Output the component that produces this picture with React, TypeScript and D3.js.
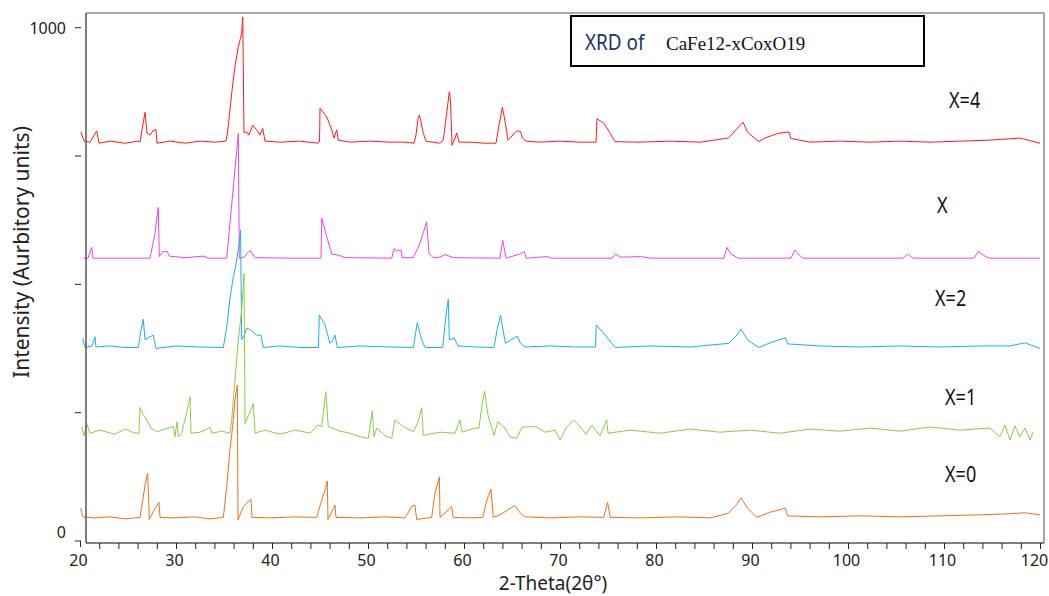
import React from "react";
import * as d3 from "d3";

// 2θ (deg), intensity (arbitrary, stacked as plotted)
const seriesX4: [number, number][] = [
  [20.05, 797], [20.36, 779], [20.99, 777], [21.69, 799], [21.93, 775], [23.07, 779], [24.64, 775], [25.99, 779],
  [26.2, 777], [26.41, 801], [26.72, 835], [26.93, 795], [27.24, 791], [27.55, 799], [27.86, 802], [27.97, 775],
  [29.32, 779], [30.89, 775], [32.45, 779], [34.01, 777], [35.16, 779], [35.31, 795], [35.57, 840], [35.81, 882],
  [36.09, 924], [36.44, 963], [36.79, 989], [36.9, 1021], [37.03, 795], [37.31, 797], [37.55, 791], [37.94, 810],
  [38.35, 801], [38.7, 791], [38.98, 804], [39.22, 779], [40.78, 777], [42.86, 779], [44.74, 775], [44.9, 779],
  [44.95, 843], [45.26, 836], [45.65, 826], [45.99, 810], [46.17, 801], [46.41, 785], [46.69, 801], [46.85, 781],
  [48.07, 777], [50.16, 779], [52.24, 777], [53.8, 777], [54.74, 775], [54.95, 791], [55.16, 824], [55.31, 830],
  [55.47, 816], [55.71, 794], [55.99, 779], [56.72, 777], [57.45, 775], [57.79, 781], [58.15, 834], [58.42, 875],
  [58.54, 859], [58.7, 771], [59.01, 785], [59.19, 795], [59.43, 777], [60.57, 777], [62.14, 775], [63.28, 775],
  [63.59, 810], [63.95, 845], [64.26, 814], [64.53, 781], [64.95, 789], [65.44, 799], [65.83, 798], [66.03, 785],
  [66.41, 779], [67.86, 777], [69.95, 779], [72.03, 777], [73.7, 777], [73.8, 823], [74.01, 820], [74.5, 814],
  [75.09, 797], [75.68, 778], [78.28, 777], [81.41, 779], [84.53, 777], [87.5, 785], [88.28, 801], [89.01, 816],
  [89.47, 797], [89.95, 789], [90.66, 778], [91.3, 785], [92.63, 794], [93.8, 797], [94.01, 784], [96.0, 777],
  [99.11, 779], [102.24, 777], [105.36, 779], [108.49, 777], [111.61, 779], [114.74, 781], [117.86, 785], [119.95, 775],
];

const seriesX: [number, number][] = [
  [20.29, 551], [20.78, 551], [21.17, 572], [21.3, 551], [24.11, 551], [27.24, 551], [27.76, 599], [28.1, 650],
  [28.21, 554], [28.56, 564], [29.04, 564], [29.25, 555], [30.89, 552], [32.86, 555], [33.28, 551], [35.23, 551],
  [36.44, 794], [36.54, 551], [37.03, 553], [37.66, 566], [38.18, 552], [41.82, 551], [45.05, 551], [45.13, 629],
  [45.65, 593], [46.17, 559], [46.85, 557], [47.55, 552], [52.42, 551], [52.66, 570], [52.94, 565], [53.39, 567],
  [53.49, 552], [54.67, 552], [55.36, 580], [56.06, 622], [56.3, 560], [56.75, 552], [57.45, 553], [57.97, 558],
  [58.83, 552], [63.7, 551], [63.98, 586], [64.33, 551], [65.78, 559], [66.23, 564], [66.43, 551], [68.59, 554],
  [69.11, 551], [75.36, 551], [75.76, 559], [76.2, 553], [78.44, 554], [79.32, 551], [87.03, 551], [87.34, 572],
  [87.7, 560], [88.49, 551], [94.01, 551], [94.4, 567], [95.19, 551], [105.68, 551], [106.14, 559], [106.72, 551],
  [113.07, 551], [113.51, 564], [114.29, 554], [114.74, 551], [119.95, 551],
];

const seriesX2: [number, number][] = [
  [20.23, 395], [20.47, 377], [21.2, 380], [21.51, 398], [21.61, 378], [23.07, 380], [24.64, 377], [26.02, 377],
  [26.3, 411], [26.54, 432], [26.72, 392], [27.14, 397], [27.58, 401], [27.86, 375], [29.84, 380], [32.45, 378],
  [34.88, 377], [35.23, 417], [35.57, 473], [35.92, 515], [36.09, 528], [36.54, 580], [36.67, 606], [36.79, 392],
  [37.06, 401], [37.34, 415], [37.73, 411], [38.35, 401], [38.8, 401], [39.04, 377], [40.78, 380], [42.86, 377],
  [44.79, 377], [44.87, 440], [45.47, 421], [45.99, 385], [46.3, 392], [46.51, 401], [46.75, 377], [49.11, 380],
  [52.24, 378], [54.67, 377], [55.08, 425], [55.54, 392], [55.89, 377], [57.73, 377], [58.07, 440], [58.31, 471],
  [58.42, 392], [58.94, 395], [59.32, 380], [61.09, 378], [63.07, 377], [63.39, 411], [63.75, 440], [64.26, 385],
  [64.84, 392], [65.52, 399], [65.83, 385], [66.3, 378], [68.91, 380], [71.51, 378], [73.65, 378], [73.72, 421],
  [74.5, 405], [75.68, 377], [79.32, 380], [83.49, 378], [87.5, 385], [88.28, 399], [88.8, 413], [89.47, 392],
  [90.66, 377], [91.82, 386], [93.42, 396], [93.65, 384], [97.03, 380], [101.2, 378], [105.36, 380], [109.53, 378],
  [113.7, 380], [116.82, 380], [118.39, 386], [119.95, 375],
];

const seriesX1: [number, number][] = [
  [20.13, 223], [20.36, 205], [20.65, 229], [20.99, 210], [22.03, 216], [23.59, 208], [24.64, 218], [25.68, 210],
  [26.09, 210], [26.2, 260], [26.51, 247], [26.9, 236], [27.34, 220], [27.94, 213], [28.8, 218], [29.67, 223],
  [29.84, 203], [30.05, 232], [30.19, 203], [30.54, 210], [30.99, 245], [31.41, 281], [31.51, 210], [32.45, 212],
  [33.49, 221], [33.7, 210], [34.74, 214], [35.57, 210], [35.75, 236], [36.09, 314], [36.44, 392], [36.79, 450],
  [37.03, 521], [37.14, 229], [37.66, 252], [38.0, 268], [38.18, 210], [39.22, 216], [40.78, 208], [42.34, 216],
  [43.91, 210], [44.74, 226], [45.13, 223], [45.55, 291], [45.81, 223], [47.03, 214], [48.07, 210], [49.11, 203],
  [49.98, 200], [50.4, 253], [50.57, 203], [50.85, 220], [51.72, 205], [52.42, 200], [52.76, 236], [53.63, 223],
  [54.67, 213], [55.16, 232], [55.54, 260], [55.71, 206], [57.45, 212], [59.01, 210], [59.53, 236], [59.74, 212],
  [61.09, 220], [61.51, 220], [61.82, 265], [62.09, 292], [62.45, 245], [63.07, 206], [63.47, 232], [64.22, 220],
  [64.74, 203], [65.44, 200], [65.99, 222], [67.41, 223], [68.39, 212], [69.43, 216], [69.97, 197], [70.57, 220],
  [71.35, 236], [72.03, 223], [72.66, 208], [73.28, 226], [74.11, 205], [74.81, 236], [74.95, 210], [77.24, 216],
  [80.36, 210], [83.49, 218], [86.61, 212], [89.74, 216], [92.86, 210], [95.99, 218], [99.11, 214], [102.24, 220],
  [105.36, 214], [108.49, 222], [111.61, 216], [114.74, 220], [115.78, 203], [116.3, 226], [116.82, 197], [117.34, 224],
  [117.86, 203], [118.39, 220], [118.91, 197], [119.22, 212],
];

const seriesX0: [number, number][] = [
  [20.02, 64], [20.23, 47], [21.51, 45], [23.07, 47], [24.64, 43], [26.2, 46], [26.54, 86], [26.72, 109],
  [27.0, 132], [27.17, 42], [27.66, 60], [28.18, 75], [28.28, 46], [29.84, 45], [31.93, 47], [33.49, 43],
  [34.88, 46], [35.23, 106], [35.57, 177], [35.92, 236], [36.09, 275], [36.33, 304], [36.41, 41], [36.96, 67],
  [37.34, 74], [37.76, 81], [37.86, 46], [39.74, 45], [42.34, 47], [44.6, 46], [45.13, 80], [45.47, 99],
  [45.71, 117], [45.78, 42], [46.51, 70], [46.61, 46], [49.11, 45], [51.72, 47], [53.8, 45], [54.5, 67],
  [54.84, 70], [55.02, 42], [56.58, 46], [56.93, 93], [57.38, 125], [57.45, 46], [58.28, 60], [58.67, 67],
  [58.83, 46], [60.57, 45], [61.9, 46], [62.34, 80], [62.76, 101], [63.0, 46], [63.7, 51], [65.24, 69],
  [65.83, 54], [66.3, 47], [68.91, 45], [72.03, 47], [74.5, 46], [74.9, 75], [75.18, 46], [78.28, 45],
  [82.45, 47], [85.57, 45], [87.5, 54], [88.28, 70], [88.8, 84], [89.47, 64], [90.47, 46], [91.82, 56],
  [93.42, 64], [93.65, 49], [97.03, 47], [101.2, 49], [105.36, 47], [109.53, 49], [113.7, 51], [116.82, 53],
  [118.39, 55], [119.95, 51],
];

const seriesNames = ["X=4", "X", "X=2", "X=1", "X=0"];
const seriesColors = ["#ff1a1a", "#ee44dd", "#1aaeea", "#8ccc44", "#e8731a"];
const xTickLabels = [20, 30, 40, 50, 60, 70, 80, 90, 100, 110, 120];
const yTickValues = [0, 250, 500, 750, 1000];
const yTickLabels = ["0", "", "", "", "1000"];

const W = 1049;
const H = 596;

export default function App() {
  const x = d3.scaleLinear().domain([20, 120]).range([80.5, 1040.5]);
  const y = d3.scaleLinear().domain([0, 1000]).range([541, 27.7]);
  const line = d3
    .line<[number, number]>()
    .x((d) => x(d[0]))
    .y((d) => y(d[1]));
  const all = [seriesX4, seriesX, seriesX2, seriesX1, seriesX0];
  const labelPos = [
    [949, 108],
    [937, 213],
    [935, 306],
    [945, 405],
    [945, 482],
  ];
  const minorTicks = d3.range(22, 121, 2);
  const axisL = 86;
  const axisR = 1044;
  const axisT = 13;
  const axisB = 543;

  return (
    <svg
      width={W}
      height={H}
      style={{ position: "absolute", left: 0, top: 0, background: "#fff" }}
      fontFamily="'Noto Sans', 'Open Sans', sans-serif"
    >
      <rect x={0} y={0} width={W} height={H} fill="#fff" />
      {/* frame */}
      <line x1={axisL} x2={axisR} y1={axisT} y2={axisT} stroke="#aaa" strokeWidth={2} />
      <line x1={axisR} x2={axisR} y1={axisT} y2={axisB} stroke="#888" strokeWidth={1.5} />
      {/* series */}
      {all.map((s, i) => (
        <path key={i} d={line(s) || ""} fill="none" stroke={seriesColors[i]} strokeWidth={1} />
      ))}
      <line x1={axisL} x2={axisL} y1={axisT} y2={axisB} stroke="#555" strokeWidth={1.5} />
      <line x1={axisL} x2={axisR} y1={axisB} y2={axisB} stroke="#555" strokeWidth={1.5} />
      {/* x ticks */}
      {minorTicks.map((v) => (
        <line key={v} x1={x(v)} x2={x(v)} y1={axisB} y2={axisB + 6} stroke="#222" strokeWidth={1} />
      ))}
      <line x1={80.5} x2={80.5} y1={541} y2={547} stroke="#222" strokeWidth={1} />
      {xTickLabels.map((v) => (
        <text
          key={v}
          x={v === 120 ? x(v) - 6 : x(v) - 2}
          y={566}
          fontSize={16}
          textAnchor="middle"
          fill="#222"
        >
          {v}
        </text>
      ))}
      {/* y ticks */}
      {yTickValues.map((v, i) => (
        <g key={v}>
          <line x1={75} x2={81} y1={y(v)} y2={y(v)} stroke="#222" strokeWidth={1} />
          {yTickLabels[i] && (
            <text
              x={66}
              y={v === 0 ? 538 : y(v) + 6}
              fontSize={16}
              textAnchor="end"
              fill="#222"
            >
              {yTickLabels[i]}
            </text>
          )}
        </g>
      ))}
      {/* axis titles */}
      <text x={553} y={590} fontSize={19} textAnchor="middle" fill="#222">
        2-Theta(2θ°)
      </text>
      <text
        transform="translate(29,252) rotate(-90)"
        fontSize={21}
        textAnchor="middle"
        fill="#222"
      >
        Intensity (Aurbitory units)
      </text>
      {/* title box */}
      <rect x={571} y={16} width={353} height={50} fill="#fff" stroke="#000" strokeWidth={2} />
      <g transform="translate(585,50) scale(0.9,1)">
        <text x={0} y={0} fontSize={21} fill="#1a3370">
          XRD of
        </text>
      </g>
      <text x={666} y={50} fontSize={19} fill="#111" fontFamily="'Liberation Serif', 'Times New Roman', serif">
        CaFe12-xCoxO19
      </text>
      {/* series labels */}
      {seriesNames.map((n, i) => (
        <g key={n} transform={`translate(${labelPos[i][0]},${labelPos[i][1]}) scale(0.82,1)`}>
          <text x={0} y={0} fontSize={22} fill="#111" fontFamily="'Noto Sans', 'DejaVu Sans', sans-serif">
            {n}
          </text>
        </g>
      ))}
    </svg>
  );
}
